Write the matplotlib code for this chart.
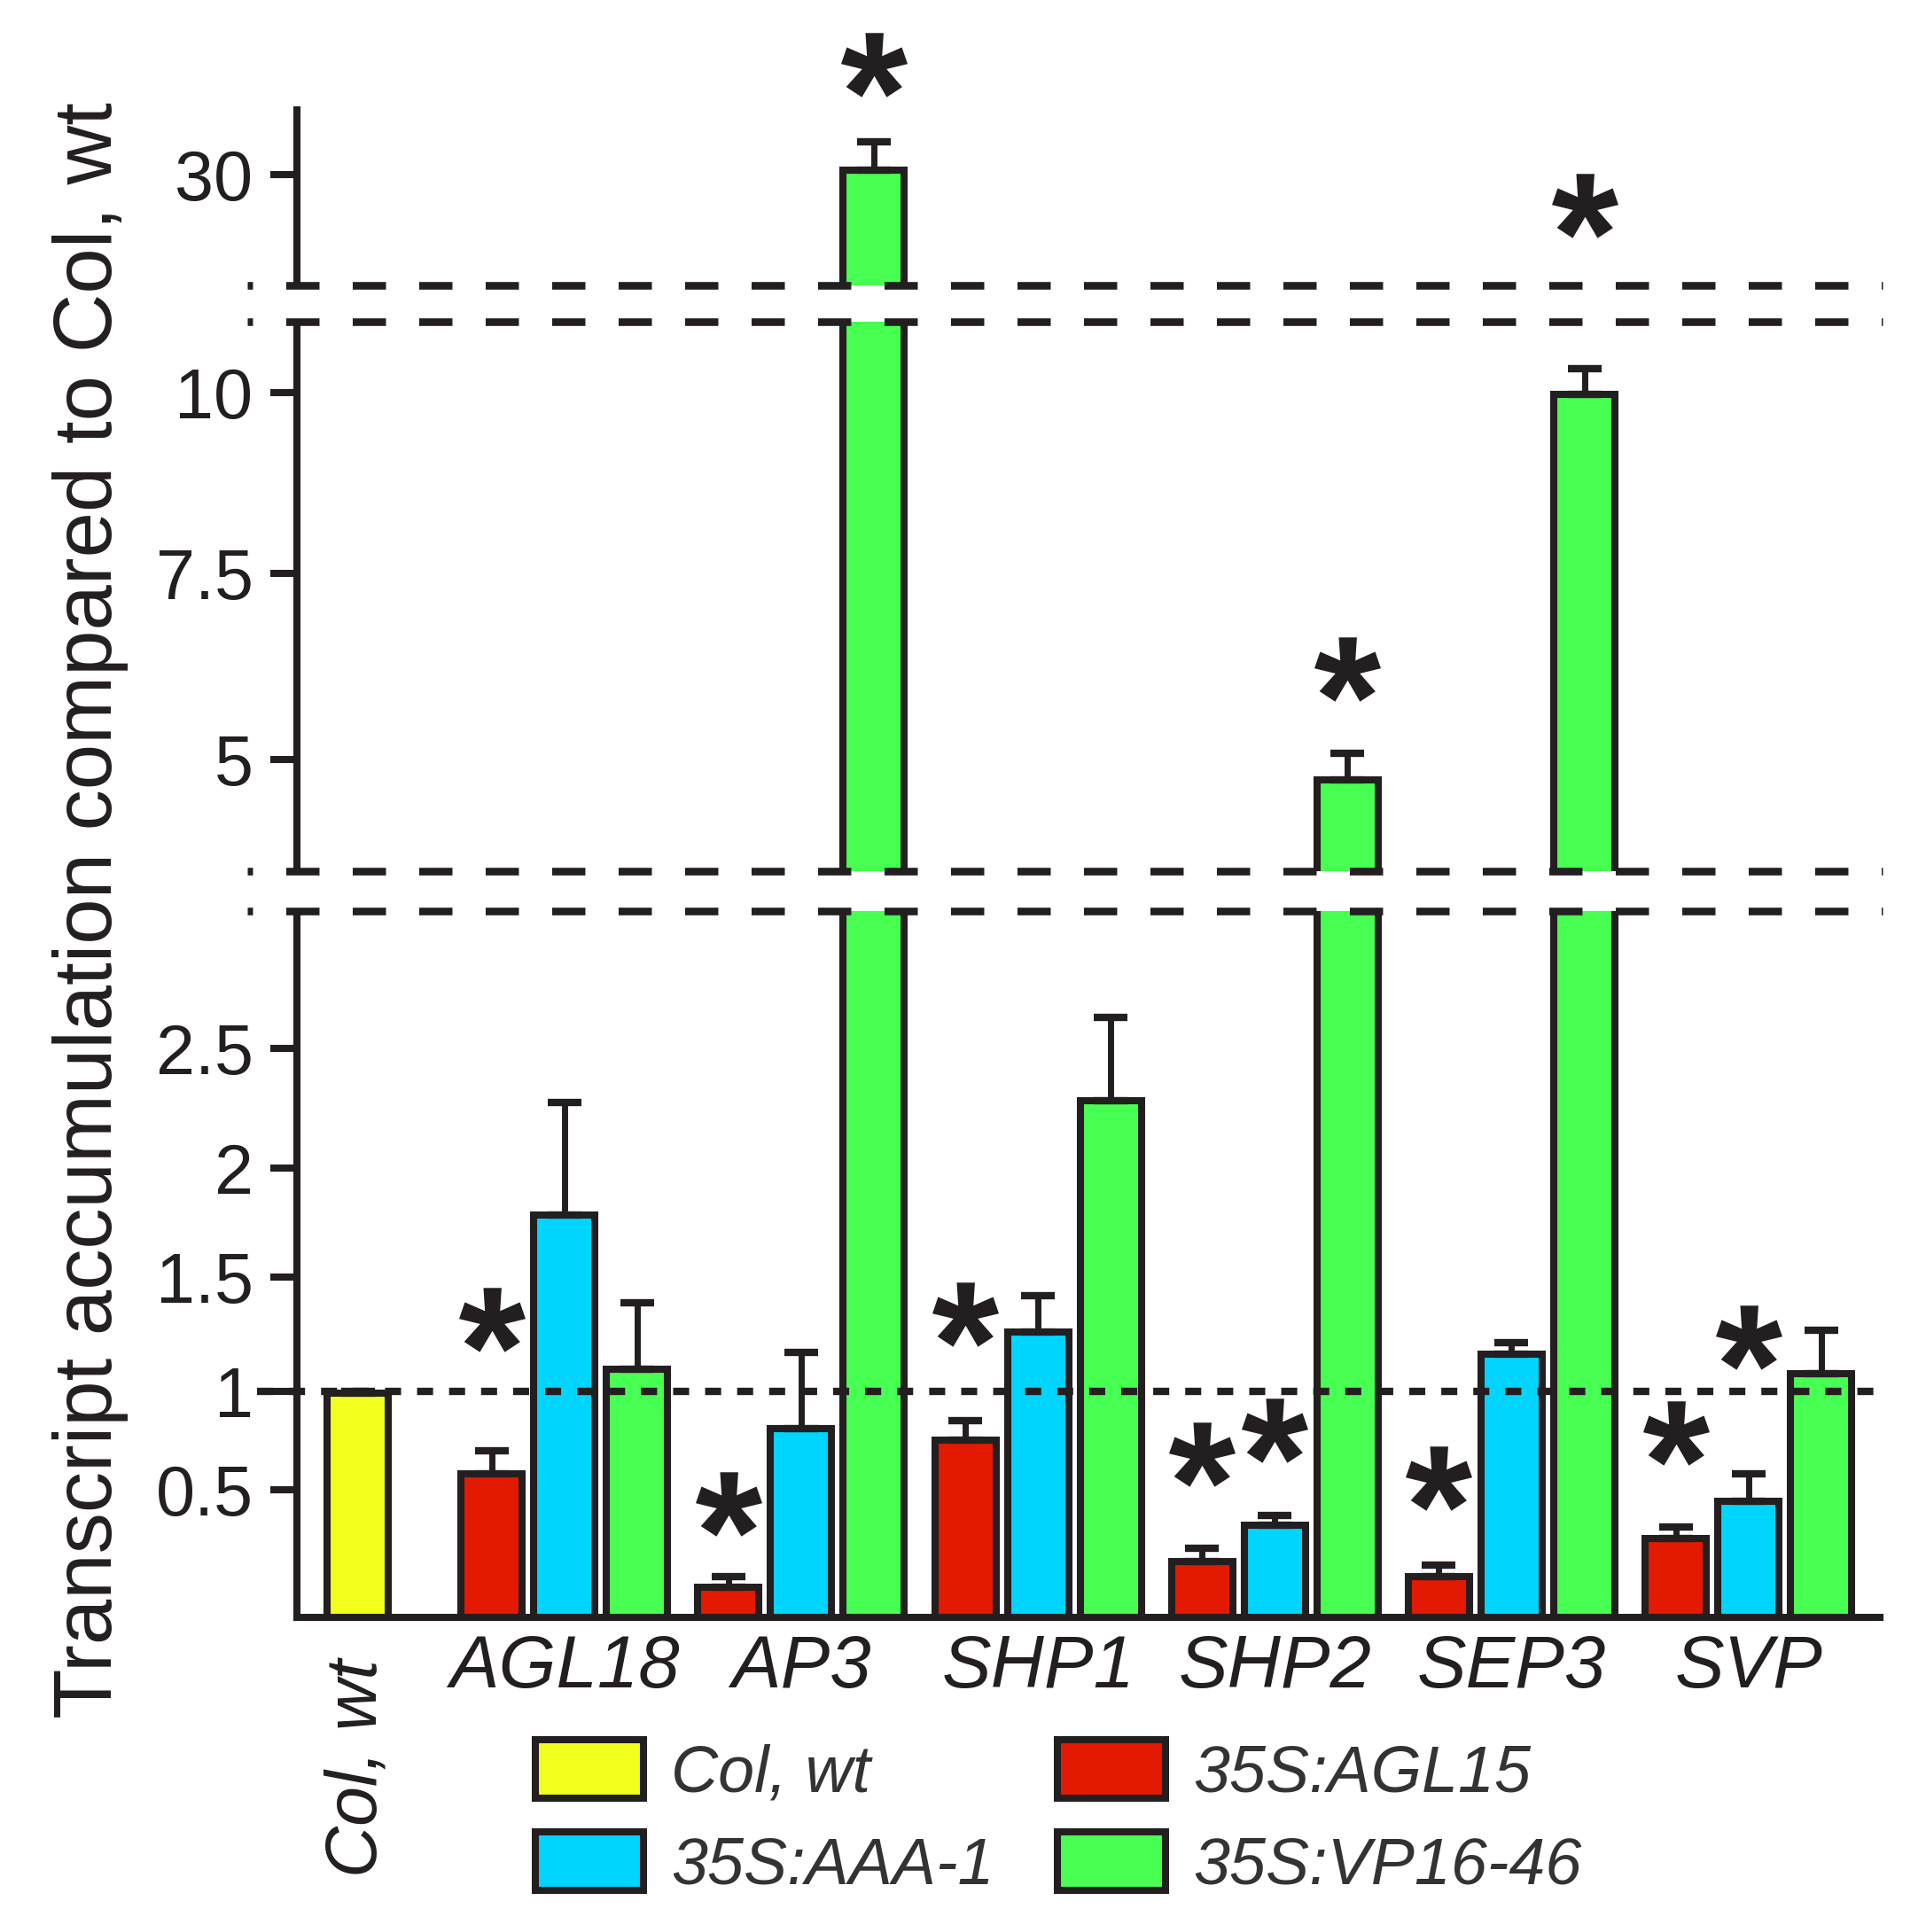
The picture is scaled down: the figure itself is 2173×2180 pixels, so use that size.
import numpy as np
import matplotlib
matplotlib.use("Agg")
import matplotlib.pyplot as plt
from matplotlib.patches import Patch
from matplotlib.path import Path
from matplotlib.textpath import TextPath
from matplotlib.font_manager import FontProperties

plt.rcParams['font.family'] = ['Liberation Sans', 'DejaVu Sans']

# data
genes = ['AGL18', 'AP3', 'SHP1', 'SHP2', 'SEP3', 'SVP']
series = ['35S:AGL15', '35S:AAA-1', '35S:VP16-46']
colwt_val = 0.99
colwt_err = 0.01
agl15 = [0.583, 0.119, 0.750, 0.220, 0.161, 0.310]
agl15_err = [0.113, 0.039, 0.101, 0.050, 0.044, 0.045]
aaa1 = [1.785, 0.811, 1.261, 0.360, 1.161, 0.456]
aaa1_err = [0.490, 0.360, 0.156, 0.039, 0.052, 0.123]
vp16 = [1.097, 30.44, 2.28, 4.73, 9.98, 1.076]
vp16_err = [0.289, 2.57, 0.35, 0.35, 0.34, 0.19]

# significance marks: (series index, gene index, height of the star)
stars = [(0, 0, 1.314), (0, 1, 0.444), (0, 2, 1.339), (0, 3, 0.680),
         (0, 4, 0.559), (0, 5, 0.790),
         (1, 3, 0.802), (1, 5, 1.235),
         (2, 1, 40.0), (2, 3, 6.21), (2, 4, 27.2)]

yticks = [0.5, 1, 1.5, 2, 2.5, 5, 7.5, 10, 30]
yticklabels = ['0.5', '1', '1.5', '2', '2.5', '5', '7.5', '10', '30']

# broken axis: value -> vertical pixel (top of image = 0)
seg_vals = [-100, 0, 0.5, 1, 1.5, 2, 2.5, 3.07, 3.49, 5, 7.5, 10, 10.96,
            20, 30, 1000]
seg_pix = [30625, 1825, 1681, 1570, 1441, 1318, 1183, 1028, 983.5, 857,
           647, 443, 363, 322, 197.5, -11880]
seg_vals = np.array(seg_vals, float)
seg_pix = -np.array(seg_pix, float)

def fwd(v):
    return np.interp(v, seg_vals, seg_pix)

def inv(p):
    return np.interp(p, seg_pix, seg_vals)

breaks = [(3.07, 3.49), (10.96, 20)]
axis_top = 36.2

W, H = 2173, 2180
fig = plt.figure(figsize=(W / 100, H / 100), dpi=100)
ax = fig.add_axes([335 / W, (H - 1825) / H, (2121 - 335) / W, (1825 - 35.6) / H])
ax.set_yscale('function', functions=(fwd, inv))

ink = '#231f20'
colors = ['#e41a00', '#00d5ff', '#46ff50']
yellow = '#f2ff1c'
lw = 5.8

x = np.arange(1, len(genes) + 1)
colwt_x = 0.128
width = 0.258
off = 0.307

ax.set_xlim(-0.129, 6.555)
ax.set_ylim(0, 43)

ekw = dict(ecolor=ink, elinewidth=5.0, capsize=13.5, capthick=6.0, zorder=2.5)
ax.bar(colwt_x, colwt_val, width, color=yellow, edgecolor=ink, linewidth=lw,
       yerr=[[0], [colwt_err]], error_kw=ekw, zorder=2)
vals = [agl15, aaa1, vp16]
errs = [agl15_err, aaa1_err, vp16_err]
for k in range(3):
    ax.bar(x + (k - 1) * off, vals[k], width, color=colors[k], edgecolor=ink,
           linewidth=lw, yerr=[np.zeros(len(genes)), errs[k]],
           error_kw=ekw, zorder=2)

# white gaps + dashed break lines
xl = ax.get_xlim()
dash_lw = 6.2
dash = 27.0 / dash_lw
for lo, hi in breaks:
    ax.axhspan(lo, hi, color='white', zorder=3, lw=0)
    for v in (lo, hi):
        ax.plot([-0.338, 6.567], [v, v], color=ink, lw=dash_lw, zorder=4,
                clip_on=False, linestyle=(22.7 / dash_lw, (dash, dash)),
                dash_capstyle='butt')

# reference line at 1
dot_lw = 6.0
ax.plot([-0.297, 6.58], [1, 1], color=ink, lw=dot_lw, zorder=3.5, clip_on=False,
        linestyle=(0, (13 / dot_lw, 13 / dot_lw)), dash_capstyle='butt')

# left axis in three pieces
edges = [0] + [b for pair in breaks for b in pair] + [axis_top]
for lo, hi in zip(edges[::2], edges[1::2]):
    ax.plot([xl[0], xl[0]], [lo, hi], color=ink, lw=lw, clip_on=False,
            solid_capstyle='butt', zorder=5)

# star marker built from the bold asterisk glyph, centred on its ink
tp = TextPath((0, 0), '*', prop=FontProperties(family='Liberation Sans',
                                               weight='bold'))
polys = tp.to_polygons()
allv = np.vstack(polys)
cx = (allv[:, 0].min() + allv[:, 0].max()) / 2
cy = (allv[:, 1].min() + allv[:, 1].max()) / 2
star = Path.make_compound_path(*[Path(p - [cx, cy], closed=True) for p in polys])
for k, g, h in stars:
    ax.plot(x[g] + (k - 1) * off, h, marker=star, markersize=54, color=ink,
            markeredgewidth=0, linestyle='none', clip_on=False, zorder=6)

for s in ['top', 'right', 'left']:
    ax.spines[s].set_visible(False)
ax.spines['bottom'].set_linewidth(lw)
ax.spines['bottom'].set_color(ink)
ax.spines['bottom'].set_zorder(5)

ax.set_yticks(yticks, yticklabels)
ax.tick_params(axis='y', length=21.6, width=lw, pad=14, labelsize=57,
               color=ink, labelcolor=ink)
ax.set_xticks(x, genes)
ax.tick_params(axis='x', length=0, pad=13, labelsize=60, labelcolor=ink)
for t in ax.get_xticklabels():
    t.set_fontstyle('italic')
ax.annotate('Col, wt', xy=(colwt_x, 0), xycoords=('data', 'axes fraction'),
            xytext=(0, -34), textcoords='offset points', rotation=90,
            ha='center', va='top', fontsize=58, style='italic', color=ink)

fig.text(102.5 / W, 1 - 1027 / H, 'Transcript accumulation compared to Col, wt',
         rotation=90, ha='center', va='center', fontsize=66.5, color=ink)

handles = [Patch(facecolor=yellow, edgecolor=ink, linewidth=lw),
           Patch(facecolor=colors[1], edgecolor=ink, linewidth=lw),
           Patch(facecolor=colors[0], edgecolor=ink, linewidth=lw),
           Patch(facecolor=colors[2], edgecolor=ink, linewidth=lw)]
labels = ['Col, wt', series[1], series[0], series[2]]
ax.legend(handles, labels, ncol=2, loc='upper left',
          bbox_to_anchor=(604 / W, 1 - 1963 / H), bbox_transform=fig.transFigure,
          frameon=False, prop={'style': 'italic', 'size': 53},
          labelcolor='#333333', handlelength=1.66, handleheight=1.0,
          handletextpad=0.42, columnspacing=0.97, labelspacing=0.42,
          borderpad=0, borderaxespad=0)

fig.savefig('out.png', dpi=100, facecolor='white')
